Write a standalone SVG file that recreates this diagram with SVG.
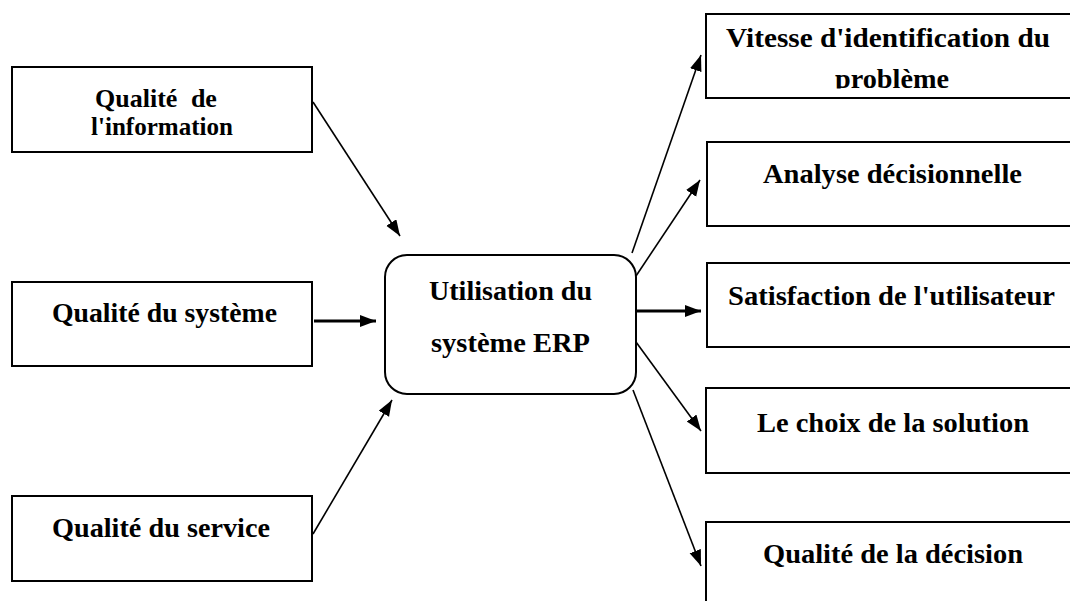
<svg xmlns="http://www.w3.org/2000/svg" width="1070" height="601" viewBox="0 0 1070 601">
  <style>
    .box { fill: #fff; stroke: #000; stroke-width: 2; }
    .lbl { font-family: "Liberation Serif", "Times New Roman", serif; font-weight: bold; fill: #000; text-anchor: middle; font-size: 27px; }
    .sm { font-size: 26px; }
    .thin { stroke: #000; stroke-width: 1.6; fill: none; }
    .thick { stroke: #000; stroke-width: 3; fill: none; }
  </style>
  <defs>
    <marker id="arrow" markerUnits="userSpaceOnUse" markerWidth="17" markerHeight="13" refX="16" refY="6" orient="auto">
      <path d="M0,0 L16,6 L0,12 z" fill="#000"/>
    </marker>
    <clipPath id="clipTop">
      <rect x="700" y="0" width="370" height="88.5"/>
    </clipPath>
  </defs>
  <rect width="1070" height="601" fill="#fff"/>

  <!-- input factors -->
  <g id="info">
    <rect class="box" x="12" y="67" width="300" height="85"/>
    <text class="lbl sm" x="156" y="107" word-spacing="7">Qualité de</text>
    <text class="lbl sm" x="162" y="135" textLength="142" lengthAdjust="spacingAndGlyphs">l'information</text>
  </g>
  <g id="systeme">
    <rect class="box" x="12" y="282" width="300" height="84"/>
    <text class="lbl" x="164.5" y="322" textLength="225" lengthAdjust="spacingAndGlyphs">Qualité du système</text>
  </g>
  <g id="service">
    <rect class="box" x="12" y="496" width="300" height="85"/>
    <text class="lbl" x="161" y="537" textLength="218" lengthAdjust="spacingAndGlyphs">Qualité du service</text>
  </g>

  <!-- central usage node -->
  <g id="erp">
    <rect class="box" x="385" y="255" width="251" height="139" rx="22" ry="22"/>
    <text class="lbl" x="510.5" y="300" textLength="163" lengthAdjust="spacingAndGlyphs">Utilisation du</text>
    <text class="lbl" x="510.5" y="352" textLength="159" lengthAdjust="spacingAndGlyphs">système ERP</text>
  </g>

  <!-- outcomes -->
  <g id="vitesse">
    <rect class="box" x="706" y="14" width="370" height="84"/>
    <text class="lbl" x="888" y="47" textLength="324" lengthAdjust="spacingAndGlyphs">Vitesse d'identification du</text>
    <text class="lbl" x="892" y="88" textLength="114" lengthAdjust="spacingAndGlyphs" clip-path="url(#clipTop)">problème</text>
  </g>
  <g id="analyse">
    <rect class="box" x="707" y="142" width="370" height="84"/>
    <text class="lbl" x="892.5" y="183" textLength="259" lengthAdjust="spacingAndGlyphs">Analyse décisionnelle</text>
  </g>
  <g id="satisfaction">
    <rect class="box" x="707" y="263" width="370" height="84"/>
    <text class="lbl" x="891.5" y="305" textLength="327" lengthAdjust="spacingAndGlyphs">Satisfaction de l'utilisateur</text>
  </g>
  <g id="choix">
    <rect class="box" x="706" y="388" width="370" height="85"/>
    <text class="lbl" x="893" y="432" textLength="272" lengthAdjust="spacingAndGlyphs">Le choix de la solution</text>
  </g>
  <g id="decision">
    <rect class="box" x="706" y="522" width="370" height="90"/>
    <text class="lbl" x="893" y="563" textLength="260" lengthAdjust="spacingAndGlyphs">Qualité de la décision</text>
  </g>

  <!-- connectors -->
  <g id="connectors">
    <line class="thin" x1="313" y1="102" x2="400" y2="236" marker-end="url(#arrow)"/>
    <line class="thick" x1="314" y1="321" x2="376" y2="321" marker-end="url(#arrow)"/>
    <line class="thin" x1="313" y1="534" x2="392" y2="400" marker-end="url(#arrow)"/>
    <line class="thin" x1="632" y1="253" x2="701" y2="55" marker-end="url(#arrow)"/>
    <line class="thin" x1="636" y1="276" x2="700" y2="180" marker-end="url(#arrow)"/>
    <line class="thick" x1="637" y1="311" x2="701" y2="311" marker-end="url(#arrow)"/>
    <line class="thin" x1="636" y1="342" x2="701" y2="431" marker-end="url(#arrow)"/>
    <line class="thin" x1="633" y1="390" x2="701" y2="566" marker-end="url(#arrow)"/>
  </g>
</svg>
